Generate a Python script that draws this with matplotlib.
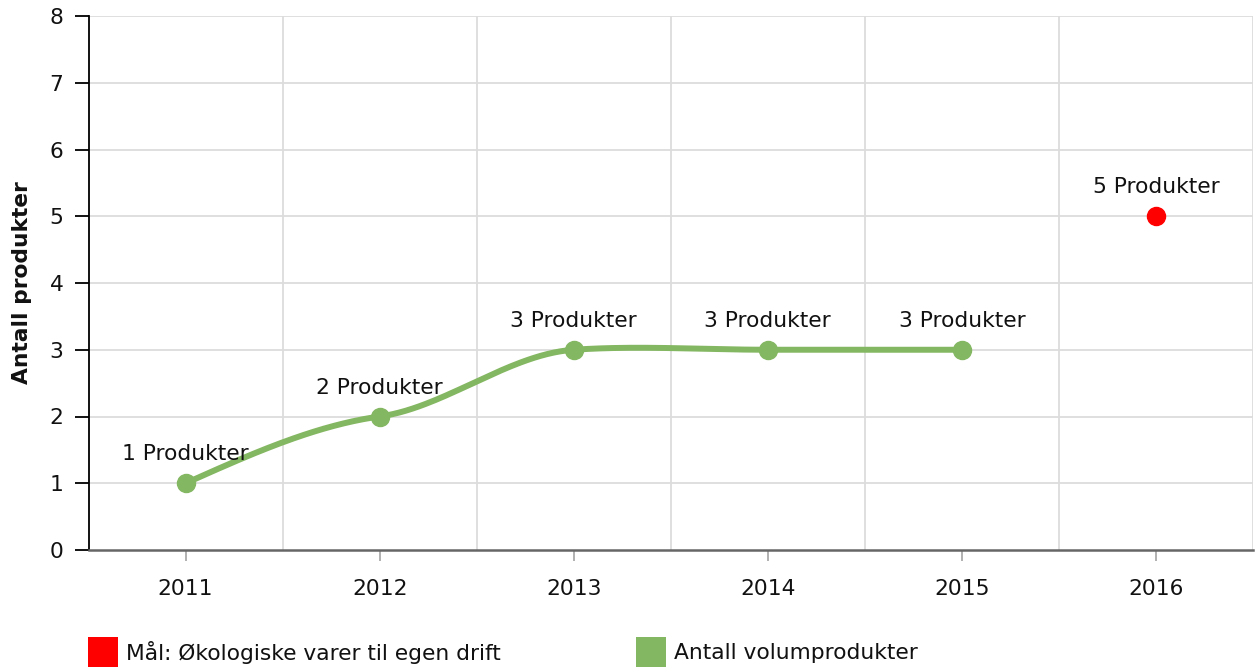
import numpy as np
import matplotlib
matplotlib.use("Agg")
import matplotlib.pyplot as plt
from matplotlib.patches import Rectangle

# ---- data ----
years = ["2011", "2012", "2013", "2014", "2015", "2016"]
volum_years = ["2011", "2012", "2013", "2014", "2015"]
volum_values = [1, 2, 3, 3, 3]
maal_years = ["2016"]
maal_values = [5]
y_ticks = [0, 1, 2, 3, 4, 5, 6, 7, 8]
legend_labels = ["Mål: Økologiske varer til egen drift", "Antall volumprodukter"]
y_label = "Antall produkter"

GREEN = "#84b761"
RED = "#ff0000"
GRID = "#dcdcdc"

plt.rcParams['font.family'] = ['DejaVu Sans']

W, H = 1256, 667
fig = plt.figure(figsize=(W / 100, H / 100), dpi=100)
L, R, T, B = 88.5, 1253, 16, 550
ax = fig.add_axes([L / W, 1 - B / H, (R - L) / W, (B - T) / H])

idx = {y: i for i, y in enumerate(years)}
xv = np.array([idx[y] for y in volum_years], dtype=float)
yv = np.array(volum_values, dtype=float)

# smooth line through the points (Hermite spline, reduced tangents)
n = len(xv)
m = np.zeros(n)
tension = 0.4
for i in range(1, n - 1):
    m[i] = tension * (yv[i + 1] - yv[i - 1]) / (xv[i + 1] - xv[i - 1]) * 2 / 2
m[0] = 1.5 * (yv[1] - yv[0]) / (xv[1] - xv[0]) - m[1] / 2
m[-1] = 1.5 * (yv[-1] - yv[-2]) / (xv[-1] - xv[-2]) - m[-2] / 2
xs, ys = [], []
for i in range(n - 1):
    h = xv[i + 1] - xv[i]
    t = np.linspace(0, 1, 60)
    h00 = 2 * t**3 - 3 * t**2 + 1
    h10 = t**3 - 2 * t**2 + t
    h01 = -2 * t**3 + 3 * t**2
    h11 = t**3 - t**2
    xs.append(xv[i] + t * h)
    ys.append(h00 * yv[i] + h10 * h * m[i] + h01 * yv[i + 1] + h11 * h * m[i + 1])
xs = np.concatenate(xs)
ys = np.concatenate(ys)

ax.plot(xs, ys, color=GREEN, lw=4.3, solid_capstyle='round', zorder=3)
ax.plot(xv, yv, 'o', color=GREEN, ms=13, zorder=4)
xm = np.array([idx[y] for y in maal_years], dtype=float)
ax.plot(xm, maal_values, 'o', color=RED, ms=13, zorder=4)

fs = 15.7
for x, y in zip(xv, yv):
    ax.annotate(f"{int(y)} Produkter", (x, y), xytext=(0, 29), textcoords='offset pixels',
                ha='center', va='center', fontsize=fs, color='#111111', zorder=5)
for x, y in zip(xm, maal_values):
    ax.annotate(f"{int(y)} Produkter", (x, y), xytext=(0, 29), textcoords='offset pixels',
                ha='center', va='center', fontsize=fs, color='#111111', zorder=5)

ax.set_xlim(-0.5, len(years) - 0.5)
ax.set_ylim(0, 8)
ax.set_yticks(y_ticks)
ax.set_xticks(range(len(years)))
ax.set_xticklabels(years)

ax.grid(False)
for yt in y_ticks[1:]:
    ax.axhline(yt, color=GRID, lw=1.3, zorder=1)
for xg in np.arange(0.5, len(years), 1.0):
    ax.axvline(xg, color=GRID, lw=1.3, zorder=1)

for s in ['top', 'right']:
    ax.spines[s].set_visible(False)
ax.spines['left'].set_color('#000000')
ax.spines['left'].set_linewidth(1.3)
ax.spines['bottom'].set_color('#666666')
ax.spines['bottom'].set_linewidth(1.8)

ax.tick_params(axis='y', direction='out', length=10, width=1.3, color='#000000',
               labelsize=fs, pad=8, labelcolor='#111111')
ax.tick_params(axis='x', which='major', direction='out', length=8, width=1.3, color='#aaaaaa',
               labelsize=fs, pad=13, labelcolor='#111111')

ax.set_ylabel(y_label, fontsize=fs, fontweight='bold', color='#111111')
ax.yaxis.set_label_coords((22 - L) / (R - L), 0.5)
ax.yaxis.label.set_va('center')

# legend
def px(x, y):
    return x / W, 1 - y / H
sq = 30
for (x0, label, col) in [(88, legend_labels[0], RED), (636, legend_labels[1], GREEN)]:
    fx, fy = px(x0, 637 + sq)
    fig.add_artist(Rectangle((fx, fy), sq / W, sq / H, transform=fig.transFigure,
                             color=col, lw=0))
    tx, ty = px(x0 + 38, 653)
    fig.text(tx, ty, label, fontsize=fs, va='center', ha='left', color='#111111')

fig.savefig("out.png", dpi=100)
